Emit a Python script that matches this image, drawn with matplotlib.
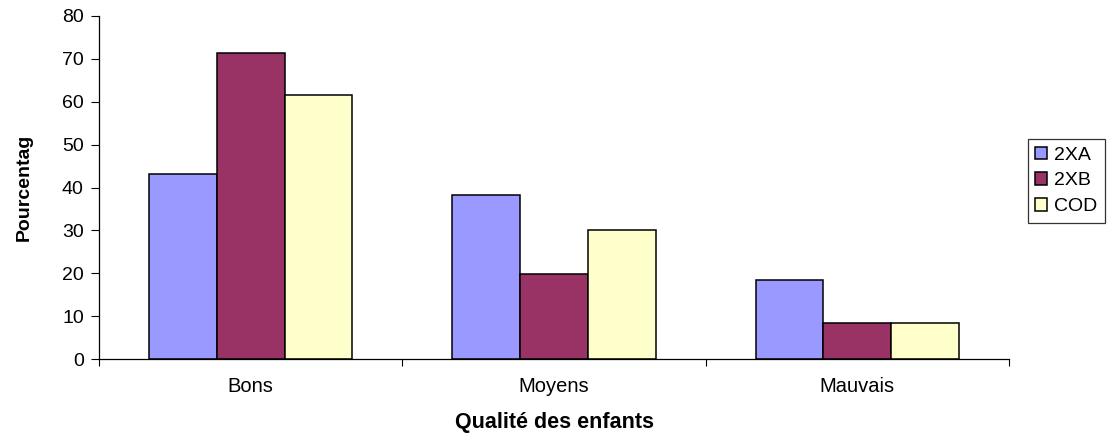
import numpy as np
import matplotlib
matplotlib.use("Agg")
import matplotlib.pyplot as plt

categories = ["Bons", "Moyens", "Mauvais"]
series_names = ["2XA", "2XB", "COD"]
vals_2xa = [43.1, 38.3, 18.5]
vals_2xb = [71.4, 19.8, 8.4]
vals_cod = [61.5, 30.0, 8.5]
colors = ["#9999FF", "#993366", "#FFFFCC"]

plt.rcParams['font.family'] = ['Liberation Sans', 'DejaVu Sans']

fig = plt.figure(figsize=(11.17, 4.34), dpi=100)
ax = fig.add_axes([0.0887, 0.172, 0.8146, 0.7918])

x = np.arange(len(categories))
w = 0.2235
for i, (vals, name) in enumerate(zip([vals_2xa, vals_2xb, vals_cod], series_names)):
    ax.bar(x + (i - 1) * w, vals, w, color=colors[i], edgecolor="black",
           linewidth=1.1, label=name)

ax.set_xlim(-0.5, 2.5)
ax.set_ylim(0, 80)
ax.set_yticks(range(0, 81, 10))
ax.set_xticks(x)
ax.set_xticklabels(categories)
ax.set_xticks([-0.5, 0.5, 1.5, 2.5], minor=True)
ax.tick_params(axis="x", which="major", length=0, pad=13, labelsize=14.5)
ax.tick_params(axis="x", which="minor", length=5, width=0.8, direction="out")
ax.tick_params(axis="y", length=6, width=0.8, direction="out", labelsize=14, pad=5)

for s in ["top", "right"]:
    ax.spines[s].set_visible(False)
for s in ["left", "bottom"]:
    ax.spines[s].set_linewidth(0.9)

ax.set_xlabel("Qualité des enfants", fontsize=15.5, fontweight="bold")
ax.xaxis.set_label_coords(0.5, -0.153)
ax.set_ylabel("Pourcentag", fontsize=14, fontweight="bold")
ax.yaxis.set_label_coords(-0.073, 0.5)

leg = fig.legend(loc="center left", bbox_to_anchor=(0.920, 0.583), fontsize=14,
                 frameon=True, fancybox=False, handlelength=0.6, handleheight=0.6,
                 handletextpad=0.35, labelspacing=0.45, borderpad=0.4,
                 borderaxespad=0)
leg.get_frame().set_edgecolor("black")
leg.get_frame().set_linewidth(0.9)

fig.savefig("out.png", dpi=100)
